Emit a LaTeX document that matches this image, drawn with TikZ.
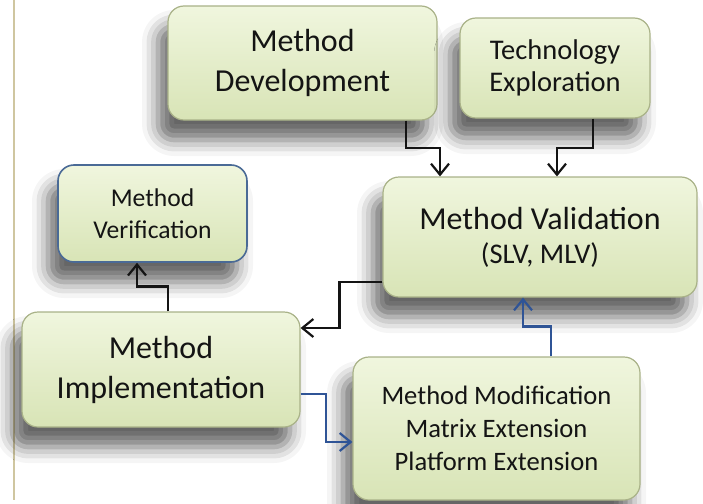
\documentclass[tikz,border=0pt]{standalone}
\usepackage{fontspec}
\setmainfont{Carlito}
\usetikzlibrary{arrows.meta, calc, shadows.blur}
\definecolor{boxfill}{HTML}{E6F0CC}
\definecolor{boxtop}{HTML}{F0F6DE}
\definecolor{boxbot}{HTML}{D8E4B6}
\definecolor{boxline}{HTML}{A9B288}
\definecolor{verline}{HTML}{4A6A96}
\definecolor{linkblue}{HTML}{2F5496}
\definecolor{frameline}{HTML}{CFC6A0}
\definecolor{ink}{HTML}{141414}

\begin{document}
\begin{tikzpicture}[x=1pt, y=-1pt,
    stage/.style={
        draw=boxline,
        line width=1.2pt,
        top color=boxtop,
        bottom color=boxbot,
        rounded corners=16pt,
        align=center,
        text=ink,
        inner sep=0pt,
        blur shadow={shadow xshift=-10pt, shadow yshift=-20pt,
            shadow blur radius=16pt, shadow opacity=60}},
    big/.style={font=\fontsize{32}{40}\selectfont},
    small/.style={font=\fontsize{26.6}{33}\selectfont},
    arr/.style={draw=ink, line width=2.2pt,
        -{Straight Barb[length=11pt, width=18pt, line width=2.2pt]}},
    bluearr/.style={arr, draw=linkblue}]

    \useasboundingbox (0,0) rectangle (703,503);
    \draw[frameline, line width=2.5pt] (14,0) -- (14,500);

    \node[stage, big, minimum width=269pt, minimum height=114pt] (dev) at (302.5,63) {Method\\Development};
    \node[stage, font=\fontsize{28.5}{32}\selectfont, minimum width=190pt, minimum height=100pt] (tech) at (555,68)
        {Technology\\Exploration};
    \node[stage, big, minimum width=314pt, minimum height=120pt] (val) at (540,237)
        {Method Validation\\[-6pt]{\fontsize{28.5}{32}\selectfont (SLV, MLV)}};
    \node[stage, draw=verline, line width=1.6pt, font=\fontsize{25.6}{32}\selectfont,
        minimum width=189pt, minimum height=97pt] (ver) at (152.5,213.5) {Method\\Verification};
    \node[stage, big, minimum width=278pt, minimum height=115pt] (impl) at (161,369.5) {Method\\Implementation};
    \node[stage, small, minimum width=287pt, minimum height=143pt] (mod) at (496.5,428.5)
        {Method Modification\\Matrix Extension\\Platform Extension};

    \draw[arr] ($(dev.south)+(103.5,0)$) -- ++(0,27) -| ($(val.north)+(-100,0)$);
    \draw[arr] ($(tech.south)+(38,0)$) -- ++(0,29) -| ($(val.north)+(17,0)$);
    \draw[arr] ($(val.west)+(0,45)$) -- ++(-43,0) |- ($(impl.east)+(0,-41.5)$);
    \draw[arr] ($(impl.north)+(7,0)$) -- ++(0,-25) -| ($(ver.south)+(-15.5,0)$);
    \draw[bluearr] ($(impl.east)+(0,24.5)$) -- ++(25,0) |- ($(mod.west)+(0,13.5)$);
    \draw[bluearr] ($(mod.north)+(54.5,0)$) -- ++(0,-30) -| ($(val.south)+(-17,0)$);
\end{tikzpicture}
\end{document}
